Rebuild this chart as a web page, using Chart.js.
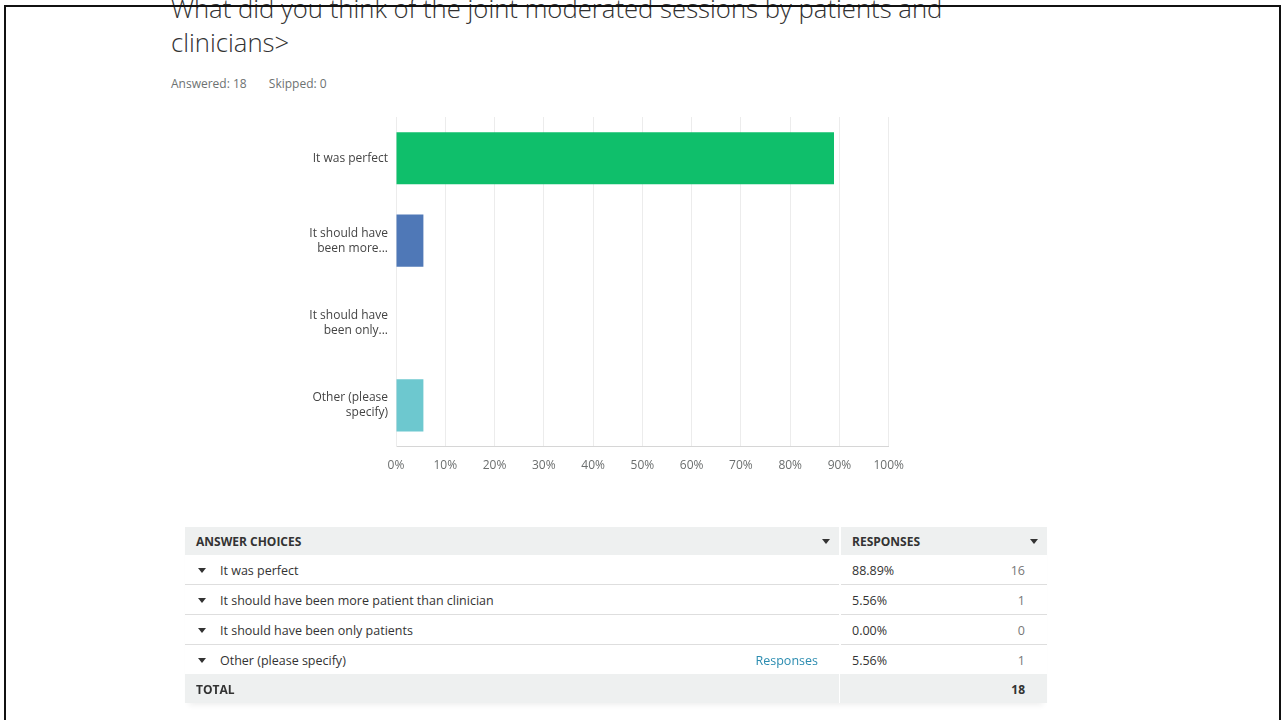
<!DOCTYPE html>
<html>
<head>
<meta charset="utf-8">
<script src="https://cdn.jsdelivr.net/npm/chart.js@4.4.1/dist/chart.umd.min.js"></script>
<style>
  body { margin: 0; background: #fff; font-family: "Open Sans", "Noto Sans", sans-serif; color: #333; }
  #page { position: relative; width: 1282px; height: 720px; overflow: hidden; }
  #frame { position: absolute; left: 4px; top: 5px; width: 1273px; height: 720px; border: 2px solid #111; border-bottom: none; z-index: 5; }
  #title { position: absolute; left: 171px; top: -8px; font-size: 25.7px; font-weight: 300; line-height: 34px; color: #333; white-space: nowrap; }
  #meta { position: absolute; left: 171px; top: 75px; font-size: 12px; color: #6d7272; }
  #meta span { margin-right: 19px; }
  #chartBox { position: absolute; left: 280px; top: 94px; width: 636px; height: 391px; }
  #tableBox { position: absolute; left: 185px; top: 527px; width: 862px; box-shadow: 0 6px 6px -4px #eee; }
  table { border-collapse: collapse; width: 862px; table-layout: fixed; font-size: 12.5px; }
  th { background: #eef0f0; height: 28px; text-align: left; font-size: 12px; font-weight: 700; padding: 0 0 0 11px; position: relative; }
  th.resp { border-left: 2px solid #fff; padding-left: 11px; }
  td { height: 27px; border-bottom: 1px solid #dedede; padding: 2px 0 0 0; }
  td.choice { padding-left: 13px; position: relative; }
  td.pct { padding-left: 11px; border-left: 2px solid transparent; }
  td.cnt { text-align: right; padding-right: 22px; color: #777; }
  tr.total td { background: #eef0f0; border-bottom: none; font-weight: 700; font-size: 12px; height: 28px; padding-top: 1px; color: #333; }
  tr.total td.choice { padding-left: 11px; }
  .tri { display: inline-block; width: 0; height: 0; border-left: 4px solid transparent; border-right: 4px solid transparent; border-top: 5px solid #333; vertical-align: middle; margin-right: 14px; position: relative; top: -1px; }
  th .tri { position: absolute; right: 9px; top: 12px; margin: 0; }
  .link { position: absolute; right: 21px; top: 7px; color: #2b8cb0; }
</style>
</head>
<body>
<div id="page">
  <div id="frame"></div>
  <div id="title">What did you think of the joint moderated sessions by patients and<br>clinicians&gt;</div>
  <div id="meta"><span>Answered: 18</span> <span>Skipped: 0</span></div>
  <div id="chartBox"><canvas id="myChart"></canvas></div>
  <div id="tableBox">
    <table>
      <colgroup><col style="width:655px"><col style="width:130px"><col style="width:77px"></colgroup>
      <thead>
        <tr><th>ANSWER CHOICES<span class="tri"></span></th><th class="resp" colspan="2">RESPONSES<span class="tri"></span></th></tr>
      </thead>
      <tbody id="tableBody"></tbody>
    </table>
  </div>
</div>
<script>
'use strict';

// short labels on the chart axis
let axisLabels = [['It was perfect'], ['It should have', 'been more...'], ['It should have', 'been only...'], ['Other (please', 'specify)']];
// full answer text for the table
let answerChoices = ['It was perfect', 'It should have been more patient than clinician', 'It should have been only patients', 'Other (please specify)'];
let percentValues = [88.89, 5.56, 0, 5.56];
let responseCounts = [16, 1, 0, 1];
let totalCount = 18;
let barColors = ['#0fbf6b', '#4f78b7', '#6c9fd0', '#6dc8cf'];

function renderTable() {
    let body = document.getElementById('tableBody');
    for (let i = 0; i < answerChoices.length; i++) {
        let tr = document.createElement('tr');
        let link = answerChoices[i].indexOf('Other') === 0 ? '<span class="link">Responses</span>' : '';
        tr.innerHTML = `<td class="choice"><span class="tri"></span>${answerChoices[i]}${link}</td>` +
            `<td class="pct">${percentValues[i].toFixed(2)}%</td><td class="cnt">${responseCounts[i]}</td>`;
        if (i === answerChoices.length - 1) tr.childNodes.forEach(td => td.style.borderBottom = 'none');
        body.appendChild(tr);
    }
    let total = document.createElement('tr');
    total.className = 'total';
    total.innerHTML = `<td class="choice">TOTAL</td><td class="pct"></td><td class="cnt">${totalCount}</td>`;
    body.appendChild(total);
}

function renderChart() {
    let ctx = document.getElementById('myChart');
    new Chart(ctx, {
        type: 'bar',
        data: {
            labels: axisLabels,
            datasets: [{
                data: percentValues,
                backgroundColor: barColors,
                borderWidth: 0,
                categoryPercentage: 0.8,
                barPercentage: 0.79
            }]
        },
        options: {
            indexAxis: 'y',
            responsive: true,
            maintainAspectRatio: false,
            animation: false,
            layout: { padding: { top: 6, right: 4 } },
            plugins: { legend: { display: false }, tooltip: { enabled: false } },
            scales: {
                x: {
                    min: 0,
                    max: 100,
                    ticks: {
                        stepSize: 10,
                        callback: v => v + '%',
                        color: '#6b6e6e',
                        font: { family: 'Open Sans', size: 12 },
                        padding: 12,
                        maxRotation: 0
                    },
                    grid: { color: '#ececec', drawTicks: false },
                    border: { color: '#d6d6d6' }
                },
                y: {
                    ticks: {
                        color: '#444',
                        font: { family: 'Open Sans', size: 12, lineHeight: 1.25 },
                        padding: 8
                    },
                    grid: { display: false, drawTicks: false },
                    border: { color: '#ececec' },
                    afterFit: s => { s.width = 116; }
                }
            }
        }
    });
}

renderTable();
renderChart();
</script>
</body>
</html>
